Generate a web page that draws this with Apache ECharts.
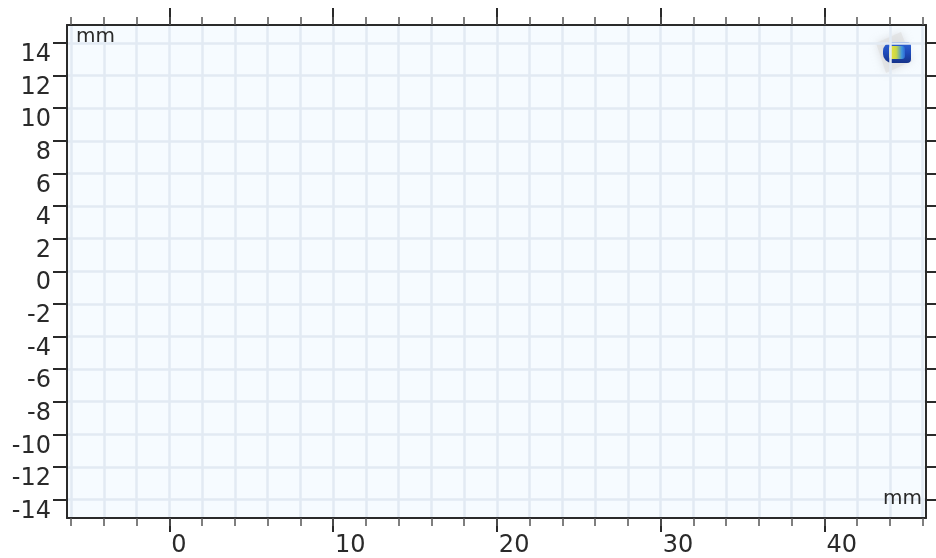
<!DOCTYPE html>
<html>
<head>
<meta charset="utf-8">
<script src="https://cdn.jsdelivr.net/npm/echarts@6/dist/echarts.min.js"></script>
<style>
  html, body { margin: 0; padding: 0; background: #ffffff; }
  #chart { width: 936px; height: 558px; }
</style>
</head>
<body>
<div id="chart"></div>
<script>
// Plot extent in millimetres
const xRange = [-6.245, 46.2];
const yRange = [-15.13, 15.1];

// Tick positions and labels
const xMajorTicks = [0, 10, 20, 30, 40];
const xMinorTicks = [-6, -4, -2, 0, 2, 4, 6, 8, 10, 12, 14, 16, 18, 20, 22, 24, 26, 28, 30, 32, 34, 36, 38, 40, 42, 44, 46];
const yTicks = [-14, -12, -10, -8, -6, -4, -2, 0, 2, 4, 6, 8, 10, 12, 14];
const unitLabel = 'mm';

const FONT = 'DejaVu Sans';
const INK = '#2a2a2a';
const GRID_LINE = '#e2eaf3';

const chart = echarts.init(document.getElementById('chart'), null, { renderer: 'canvas' });

function xAxisDef(position, ticks, tickLen, opts) {
  return Object.assign({
    type: 'value',
    position: position,
    min: xRange[0],
    max: xRange[1],
    axisLine: { show: false, onZero: false },
    axisTick: { show: true, inside: false, length: tickLen, customValues: ticks,
                lineStyle: { color: INK, width: 2 } },
    axisLabel: { show: false },
    splitLine: { show: false }
  }, opts || {});
}

const option = {
  animation: false,
  backgroundColor: '#ffffff',
  grid: {
    left: 67, top: 25, width: 859, height: 493,
    show: true, backgroundColor: '#f6fbff', borderWidth: 0,
    containLabel: false
  },
  xAxis: [
    // bottom: major ticks with labels
    xAxisDef('bottom', xMajorTicks, 14, {
      axisLine: { show: true, onZero: false, lineStyle: { color: INK, width: 2 } },
      axisLabel: {
        show: true, customValues: xMajorTicks, margin: 16,
        align: 'left', verticalAlign: 'top', lineHeight: 24, padding: [0, 0, 0, 2],
        fontFamily: FONT, fontSize: 24, color: INK
      }
    }),
    // bottom: minor ticks and vertical grid lines
    xAxisDef('bottom', xMinorTicks, 8, {
      axisTick: { show: true, length: 8, customValues: xMinorTicks,
                  lineStyle: { color: '#555', width: 1.5 } },
      splitLine: { show: true, lineStyle: { color: GRID_LINE, width: 2.5 } }
    }),
    // top: major ticks
    xAxisDef('top', xMajorTicks, 17, {
      axisLine: { show: true, onZero: false, lineStyle: { color: INK, width: 2 } }
    }),
    // top: minor ticks
    xAxisDef('top', xMinorTicks, 8, {
      axisTick: { show: true, length: 8, customValues: xMinorTicks,
                  lineStyle: { color: '#555', width: 1.5 } }
    })
  ],
  yAxis: [
    {
      type: 'value',
      position: 'left',
      min: yRange[0],
      max: yRange[1],
      axisLine: { show: true, onZero: false, lineStyle: { color: INK, width: 2 } },
      axisTick: { show: true, length: 14, customValues: yTicks,
                  lineStyle: { color: INK, width: 2 } },
      axisLabel: {
        show: true, customValues: yTicks, margin: 16,
        align: 'right', verticalAlign: 'top', lineHeight: 24,
        fontFamily: FONT, fontSize: 24, color: INK
      },
      splitLine: { show: true, lineStyle: { color: GRID_LINE, width: 2.5 } }
    },
    {
      type: 'value',
      position: 'right',
      min: yRange[0],
      max: yRange[1],
      axisLine: { show: true, onZero: false, lineStyle: { color: INK, width: 2 } },
      axisTick: { show: true, length: 14, customValues: yTicks,
                  lineStyle: { color: INK, width: 2 } },
      axisLabel: { show: false },
      splitLine: { show: false }
    }
  ],
  series: [
    { type: 'scatter', xAxisIndex: 0, yAxisIndex: 0, data: [], silent: true }
  ],
  graphic: [
    // unit captions inside the plot area
    {
      type: 'text', left: 76, top: 27, z: 100, silent: true,
      style: { text: unitLabel, fontFamily: FONT, fontSize: 20, fill: INK }
    },
    {
      type: 'text', right: 14, top: 489, z: 100, silent: true,
      style: { text: unitLabel, fontFamily: FONT, fontSize: 20, fill: INK }
    },
    // view orientation badge in the upper right corner
    {
      type: 'group', x: 874, y: 31, z: 100, silent: true,
      children: [
        {
          type: 'polygon',
          shape: { points: [[2, 12], [27, 1], [38, 30], [12, 42]] },
          style: { fill: 'rgba(222,222,222,0.6)', shadowBlur: 8, shadowColor: 'rgba(190,190,190,0.7)' }
        },
        {
          type: 'rect',
          shape: { x: 9, y: 11, width: 28, height: 21, r: [9, 4, 4, 9] },
          style: {
            fill: new echarts.graphic.LinearGradient(0, 0, 0, 1, [
              { offset: 0, color: '#2f63d4' },
              { offset: 0.5, color: '#1f4bbb' },
              { offset: 1, color: '#16338a' }
            ])
          }
        },
        {
          type: 'rect',
          shape: { x: 15, y: 15, width: 16, height: 13, r: 3 },
          style: {
            fill: new echarts.graphic.LinearGradient(0, 0, 1, 0, [
              { offset: 0, color: '#f3e53c' },
              { offset: 0.45, color: '#c8d648' },
              { offset: 0.8, color: '#3f95de' },
              { offset: 1, color: '#2d66d2' }
            ])
          }
        }
      ]
    }
  ]
};

chart.setOption(option);
</script>
</body>
</html>
